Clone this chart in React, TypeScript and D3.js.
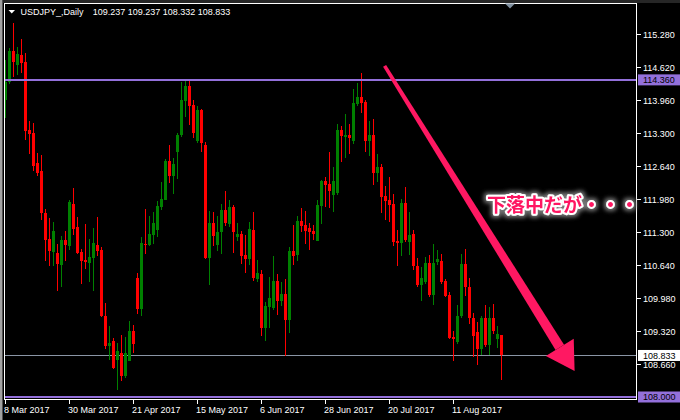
import React from "react";
import * as d3 from "d3";

const symbolTitle = "USDJPY_,Daily";
const lastBarText = "109.237 109.237 108.332 108.833";

const opens = [113.96,114.32,114.94,114.66,114.86,114.72,113.36,113.30,112.70,112.54,111.70,111.16,110.90,110.88,110.64,111.14,111.02,111.88,111.40,110.90,110.74,110.68,110.78,111.04,110.94,109.62,109.02,109.12,108.74,108.88,108.42,108.72,109.32,110.38,109.76,111.06,111.04,111.24,111.34,111.82,111.96,112.74,112.44,112.92,113.26,113.94,114.24,113.86,113.14,113.76,113.06,110.78,111.48,111.04,111.30,111.76,111.46,111.82,111.20,111.26,110.84,110.76,111.34,110.36,110.46,109.38,109.80,109.78,110.32,109.92,110.06,109.54,110.92,110.84,111.52,111.44,111.38,111.32,111.12,111.84,112.34,112.28,112.06,112.10,113.36,113.22,113.26,113.14,113.88,114.02,113.92,113.14,113.26,112.50,112.62,112.04,111.96,111.88,111.12,111.08,111.90,111.10,111.26,110.62,110.24,110.30,110.68,110.04,110.70,110.72,110.32,110.04,109.20,109.10,109.62,110.66,110.20,109.58,109.30,108.96,109.58,109.04,109.58,109.16,109.237];
const highs = [114.76,115.00,115.50,115.02,115.18,114.90,113.54,113.50,112.90,112.86,111.78,111.58,111.50,111.06,111.22,111.32,111.96,112.20,111.60,110.96,111.46,111.16,111.38,111.60,111.00,109.88,109.42,109.18,109.08,109.24,109.20,109.52,109.44,110.48,111.20,111.78,111.62,111.72,111.94,112.32,112.78,113.06,112.80,113.30,114.32,114.38,114.36,113.96,113.84,113.78,113.12,111.74,111.72,111.62,111.88,112.14,111.96,111.86,111.48,111.32,111.24,111.50,111.72,110.74,110.54,109.90,110.40,110.82,110.46,110.30,110.36,111.00,111.44,111.62,111.80,111.74,111.48,111.44,111.96,112.36,112.42,112.92,112.62,113.48,113.44,113.68,113.48,114.18,114.30,114.50,113.96,113.54,113.58,112.88,112.68,112.24,112.42,112.08,111.34,111.98,112.22,111.72,111.34,110.78,110.60,110.80,110.84,111.06,110.94,110.86,110.36,110.10,109.32,109.84,110.86,110.96,110.38,109.68,109.50,109.62,109.84,109.80,109.86,109.42,109.237];
const lows = [113.60,114.28,114.42,114.46,114.50,113.16,112.88,112.54,112.44,111.54,110.72,110.62,110.62,110.12,110.20,110.72,110.94,111.24,110.86,110.26,110.56,110.30,110.12,110.82,109.60,108.96,108.74,108.56,108.14,108.32,108.38,108.72,108.88,109.66,109.62,110.86,111.02,111.06,111.20,111.76,111.96,112.30,112.08,112.38,113.22,113.62,113.46,113.20,113.10,112.92,110.76,110.24,111.02,110.92,110.86,111.42,111.40,110.88,111.12,110.66,110.48,110.64,110.32,110.30,109.22,109.12,109.38,109.74,109.64,109.82,108.82,109.28,110.64,110.72,111.30,111.06,110.94,111.14,111.12,111.46,111.82,111.80,111.72,112.06,112.72,112.80,112.88,113.08,113.84,113.70,112.92,112.84,112.26,112.32,111.70,111.54,111.50,111.02,110.62,110.82,111.10,110.84,110.54,110.20,109.92,110.26,110.00,109.84,110.64,110.26,110.00,109.16,108.72,109.06,109.58,110.02,109.46,108.80,108.64,108.84,109.00,108.84,109.26,108.98,108.332];
const closes = [114.32,114.94,114.72,114.88,114.70,113.34,113.28,112.64,112.50,111.70,111.14,110.92,111.32,110.66,111.14,111.04,111.92,111.36,110.88,110.72,110.70,110.80,111.08,110.92,109.62,109.02,109.08,108.58,108.92,108.42,108.88,109.32,109.06,109.76,111.08,111.04,111.26,111.48,111.84,111.98,112.74,112.44,112.68,113.26,113.96,114.24,113.84,113.30,113.76,113.10,110.78,111.48,111.22,111.30,111.76,111.48,111.82,111.30,111.26,110.82,110.76,111.36,110.38,110.48,109.38,109.82,109.98,110.32,109.92,110.06,109.54,110.92,110.82,111.52,111.42,111.32,111.30,111.26,111.86,112.34,112.26,112.14,112.34,113.36,113.24,113.26,113.20,113.90,114.02,113.90,113.14,113.26,112.50,112.62,112.02,111.94,111.86,111.10,111.08,111.90,111.14,111.24,110.62,110.24,110.38,110.68,110.04,110.68,110.76,110.30,110.02,109.18,109.16,109.62,110.66,110.20,109.58,109.22,108.96,109.58,109.04,109.58,109.32,109.26,108.833];

const priceTicks = ["115.280","114.620","113.960","113.300","112.640","111.980","111.300","110.640","109.980","109.320","108.660"];
const dateLabels = ["8 Mar 2017","30 Mar 2017","21 Apr 2017","15 May 2017","6 Jun 2017","28 Jun 2017","20 Jul 2017","11 Aug 2017"];
const dateLabelEvery = 16;

const resistanceLevel = 114.36;
const supportLevel = 108.0;
const currentPrice = 108.833;

const arrowFrom = { i: 94.9, p: 114.64 };
const arrowTo = { i: 142.4, p: 108.52 };
const noteText = "下落中だが・・・";
const notePos = { i: 120.5, p: 111.71 };

const W = 680, H = 420;
const LEFT = 4.5, RIGHT = 636.5, TOP = 3.5, BOTTOM = 399.5;
const font = "'Liberation Sans', Arial, sans-serif";
const PURPLE = "#9370db";
const PINK = "#ff1862";

export default function App() {
  const x = d3.scaleLinear().domain([0, 124]).range([5, 501]);
  const y = d3.scaleLinear().domain([108.0, 115.28]).range([397, 34]);

  const candles = opens.map((o, i) => {
    const c = closes[i], h = highs[i], l = lows[i];
    const cx = Math.round(x(i));
    const yH = Math.round(y(h)), yL = Math.round(y(l));
    const top = Math.round(y(Math.max(o, c)));
    const bot = Math.round(y(Math.min(o, c)));
    const col = c >= o ? "#008000" : "#ff0000";
    return (
      <g key={i} fill={col}>
        <rect x={cx} y={yH} width={1} height={Math.max(1, yL - yH)} />
        <rect x={cx - 1} y={top} width={3} height={Math.max(1, bot - top)} />
      </g>
    );
  });

  const ax0 = x(arrowFrom.i), ay0 = y(arrowFrom.p);
  const ax1 = x(arrowTo.i), ay1 = y(arrowTo.p);
  const len = Math.hypot(ax1 - ax0, ay1 - ay0);
  const ux = (ax1 - ax0) / len, uy = (ay1 - ay0) / len;
  const nx = uy, ny = -ux;
  const headLen = 28, headHalf = 16.4;
  const bx = ax1 - ux * headLen, by = ay1 - uy * headLen;
  const shaft = [
    [ax0 + nx * 1.8, ay0 + ny * 1.8],
    [bx + nx * 5, by + ny * 5],
    [bx - nx * 5, by - ny * 5],
    [ax0 - nx * 1.8, ay0 - ny * 1.8],
  ];
  const head = [
    [bx + nx * headHalf, by + ny * headHalf],
    [ax1, ay1],
    [bx - nx * headHalf, by - ny * headHalf],
  ];
  const pts = (a: number[][]) => a.map((p) => p.join(",")).join(" ");

  const boxLabel = (v: number, txt: string, bg: string, key: string) => {
    const yy = y(v);
    return (
      <g key={key}>
        <rect x={638} y={yy - 5.5} width={42} height={11} fill={bg} />
        <text x={643} y={yy + 3.3} fill="#000" fontSize={9} fontFamily={font}>{txt}</text>
      </g>
    );
  };

  return (
    <svg width={W} height={H} style={{ position: "fixed", left: 0, top: 0, background: "#000" }}>
      <defs>
        <clipPath id="plot">
          <rect x={LEFT} y={TOP} width={RIGHT - LEFT} height={BOTTOM - TOP} />
        </clipPath>
        <filter id="glow" x="-20%" y="-50%" width="140%" height="200%">
          <feMorphology in="SourceAlpha" operator="dilate" radius="2" result="d" />
          <feGaussianBlur in="d" stdDeviation="2" result="b" />
          <feFlood floodColor="#777" result="f" />
          <feComposite in="f" in2="b" operator="in" result="s" />
          <feMerge>
            <feMergeNode in="s" />
            <feMergeNode in="SourceGraphic" />
          </feMerge>
        </filter>
      </defs>
      <rect x={0} y={0} width={W} height={H} fill="#000" />
      <rect x={0} y={0} width={W} height={3} fill="#262626" />
      <rect x={0} y={0} width={2} height={H} fill="#a0a0a0" />
      <rect x={2} y={0} width={1} height={H} fill="#505050" />

      <g clipPath="url(#plot)" shapeRendering="crispEdges">
        <line x1={LEFT} x2={RIGHT} y1={Math.round(y(currentPrice)) + 0.5} y2={Math.round(y(currentPrice)) + 0.5} stroke="#8a95a5" strokeWidth={1} />
        {candles}
        <line x1={LEFT} x2={RIGHT} y1={Math.round(y(resistanceLevel))} y2={Math.round(y(resistanceLevel))} stroke={PURPLE} strokeWidth={2} />
        <line x1={LEFT} x2={RIGHT} y1={Math.round(y(supportLevel))} y2={Math.round(y(supportLevel))} stroke={PURPLE} strokeWidth={2} />
      </g>

      <rect x={LEFT} y={TOP} width={RIGHT - LEFT} height={BOTTOM - TOP} fill="none" stroke="#fff" strokeWidth={1} shapeRendering="crispEdges" />

      <polygon points="505,3.5 515,3.5 510,8.5" fill="#8090a0" />

      <polygon points="8.5,10 15,10 11.75,13.5" fill="#fff" />
      <text x={20.5} y={14.5} fill="#fff" fontSize={9} fontFamily={font}>{symbolTitle}</text>
      <text x={92.7} y={14.5} fill="#fff" fontSize={9} fontFamily={font}>{lastBarText}</text>

      {priceTicks.map((t) => {
        const yy = Math.round(y(parseFloat(t))) + 0.5;
        return (
          <g key={t}>
            <line x1={637} x2={641} y1={yy} y2={yy} stroke="#fff" shapeRendering="crispEdges" />
            <text x={643} y={yy + 3} fill="#fff" fontSize={9} fontFamily={font}>{t}</text>
          </g>
        );
      })}
      {boxLabel(resistanceLevel, resistanceLevel.toFixed(3), PURPLE, "r")}
      {boxLabel(currentPrice, currentPrice.toFixed(3), "#fff", "c")}
      {boxLabel(supportLevel, supportLevel.toFixed(3), PURPLE, "s")}

      {dateLabels.map((lab, k) => {
        const xx = Math.round(x(k * dateLabelEvery)) + 0.5;
        return (
          <g key={lab}>
            <line x1={xx} x2={xx} y1={BOTTOM} y2={BOTTOM + 4} stroke="#fff" shapeRendering="crispEdges" />
            <text x={xx - 1.5} y={413} fill="#fff" fontSize={9} fontFamily={font}>{lab}</text>
          </g>
        );
      })}

      <polygon points={pts(shaft)} fill={PINK} />
      <polygon points={pts(head)} fill={PINK} />

      <text
        x={x(notePos.i)}
        y={y(notePos.p)}
        fontSize={19}
        fontWeight={700}
        fontFamily="'Noto Sans CJK JP', sans-serif"
        fill={PINK}
        stroke="#fff"
        strokeWidth={4}
        strokeLinejoin="round"
        paintOrder="stroke"
        filter="url(#glow)"
      >
        {noteText}
      </text>
    </svg>
  );
}
